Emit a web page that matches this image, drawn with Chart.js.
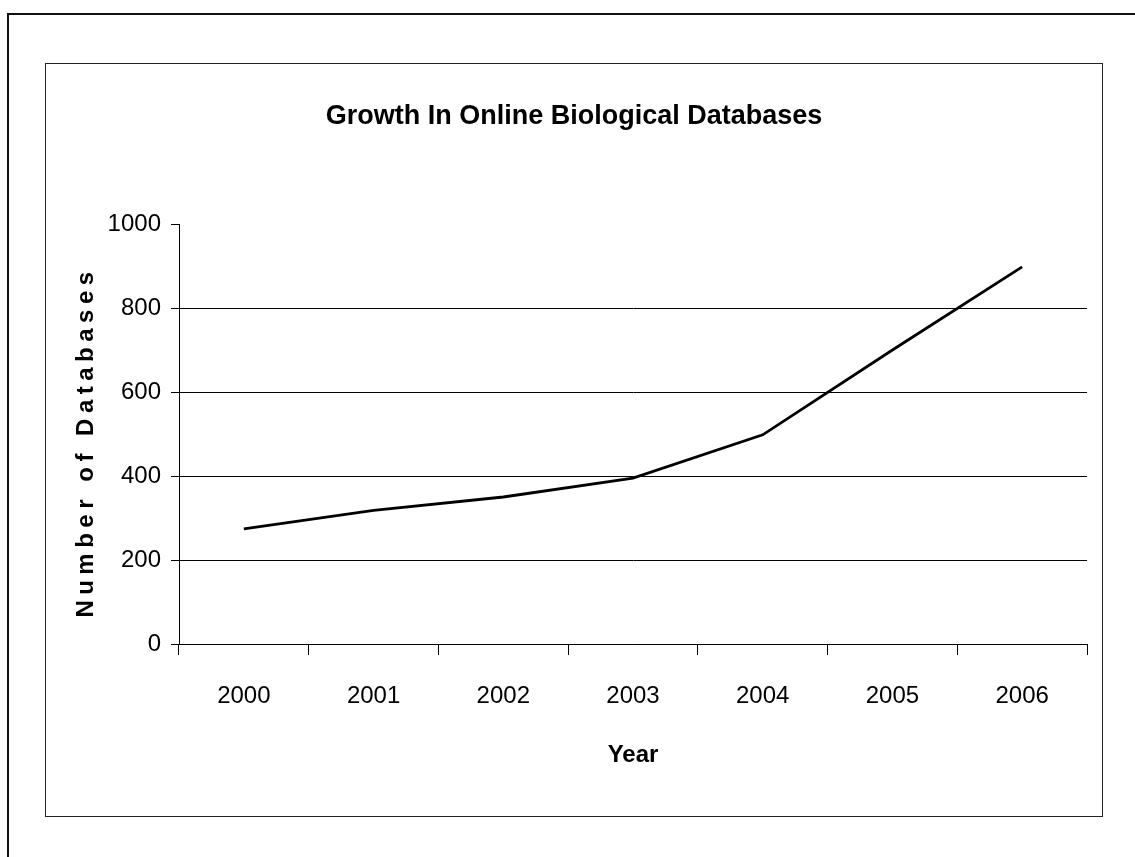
<!DOCTYPE html>
<html>
<head>
<meta charset="utf-8">
<title>Growth In Online Biological Databases</title>
<script src="https://cdn.jsdelivr.net/npm/chart.js@4/dist/chart.umd.min.js"></script>
<style>
  html, body { margin: 0; padding: 0; background: #fff; }
  body { width: 1135px; height: 857px; position: relative; overflow: hidden; }
  #frame {
    position: absolute; left: 7px; top: 13px; right: -10px; bottom: -10px;
    border-left: 2px solid #111; border-top: 2px solid #111;
  }
  #box {
    position: absolute; left: 45px; top: 63px;
    width: 1056px; height: 752px;
    border: 1px solid #222;
  }
  #chart { display: block; }
</style>
</head>
<body>
<div id="frame"></div>
<div id="box"><canvas id="chart" width="1056" height="752"></canvas></div>
<script>
// Number of online biological databases per year
const years = ['2000', '2001', '2002', '2003', '2004', '2005', '2006'];
const databaseCounts = [274, 318, 350, 395, 498, 700, 898];
const yTicks = [0, 200, 400, 600, 800, 1000];

const chartTitle = 'Growth In Online Biological Databases';
const xTitle = 'Year';
const yTitle = 'Number of Databases';

const sans = "'Liberation Sans', Arial, sans-serif";

// Spread the letters of the vertical axis title
const spacedAxisTitle = {
  id: 'spacedAxisTitle',
  beforeDraw(chart) {
    const s = chart.scales.y;
    if (!s || s._spacedTitle) return;
    const orig = s.drawTitle.bind(s);
    s.drawTitle = function () {
      const ctx = this.ctx;
      ctx.save();
      ctx.letterSpacing = '5.5px';
      ctx.translate(0, 8);
      orig();
      ctx.restore();
    };
    s._spacedTitle = true;
  }
};

new Chart(document.getElementById('chart'), {
  type: 'line',
  data: {
    labels: years,
    datasets: [{
      data: databaseCounts,
      borderColor: '#000',
      borderWidth: 2.8,
      pointRadius: 0,
      tension: 0,
      fill: false
    }]
  },
  plugins: [spacedAxisTitle],
  options: {
    responsive: false,
    animation: false,
    layout: { padding: { left: 15, right: 15, top: 0, bottom: 0 } },
    plugins: {
      legend: { display: false },
      tooltip: { enabled: false },
      title: {
        display: true,
        text: chartTitle,
        color: '#000',
        font: { family: sans, size: 27, weight: 'bold', lineHeight: 1.2 },
        padding: { top: 36, bottom: 91.6 }
      }
    },
    scales: {
      x: {
        type: 'category',
        offset: true,
        grid: {
          offset: true,
          drawOnChartArea: false,
          drawTicks: true,
          tickLength: 11,
          tickColor: '#000',
          tickWidth: 1
        },
        border: { display: true, color: '#000', width: 1 },
        ticks: {
          color: '#000',
          font: { family: sans, size: 24, lineHeight: 1.2 },
          padding: 27,
          maxRotation: 0,
          autoSkip: false
        },
        title: {
          display: true,
          text: xTitle,
          color: '#000',
          font: { family: sans, size: 24, weight: 'bold', lineHeight: 1.2 },
          padding: { top: 0, bottom: 46 }
        },
        afterFit(scale) { scale.height = 172; }
      },
      y: {
        min: 0,
        max: 1000,
        afterBuildTicks(scale) {
          scale.ticks = yTicks.map(v => ({ value: v }));
        },
        grid: {
          color: ctx => (ctx.tick && ctx.tick.value === 1000) ? 'rgba(0,0,0,0)' : '#000',
          tickColor: '#000',
          lineWidth: 1,
          tickLength: 8,
          drawTicks: true
        },
        border: { display: true, color: '#000', width: 1 },
        ticks: {
          color: '#000',
          font: { family: sans, size: 24, lineHeight: 1.2 },
          padding: 10,
          callback: v => String(v)
        },
        title: {
          display: true,
          text: yTitle,
          color: '#000',
          font: { family: sans, size: 24, weight: 'bold', lineHeight: 1.2 },
          padding: { top: 11, bottom: 0 }
        },
        afterFit(scale) { scale.width = 118; }
      }
    }
  }
});
</script>
</body>
</html>
